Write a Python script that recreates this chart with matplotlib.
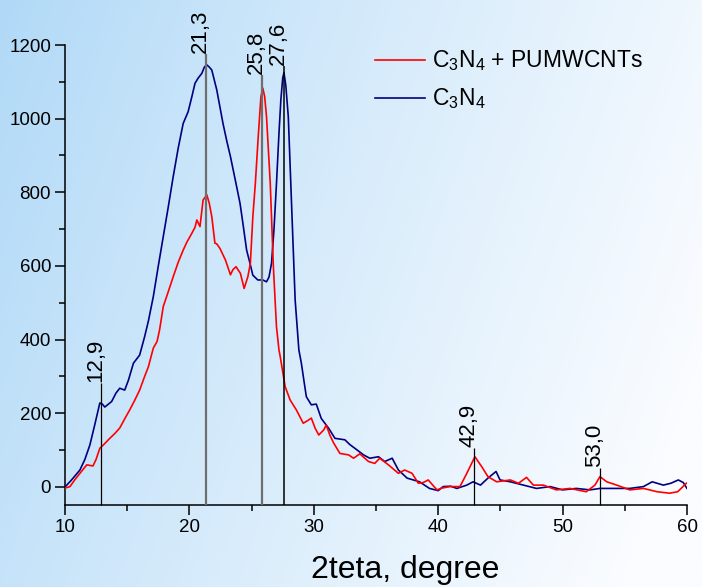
import numpy as np
import matplotlib
matplotlib.use("Agg")
import matplotlib.pyplot as plt
from matplotlib.lines import Line2D
from matplotlib.ticker import MultipleLocator

plt.rcParams['font.family'] = ['Liberation Sans', 'DejaVu Sans']
plt.rcParams['mathtext.fontset'] = 'custom'
plt.rcParams['mathtext.rm'] = 'Liberation Sans'
plt.rcParams['mathtext.it'] = 'Liberation Sans'

# ---- data ----
blue_x = [10.0, 10.5, 11.2, 11.6, 12.0, 12.4, 12.8, 13.0, 13.2, 13.75, 14.1, 14.4, 14.8, 15.1, 15.5,
          16.0, 16.4, 16.7, 17.1, 17.5, 17.9, 18.3, 18.7, 19.1, 19.5, 19.9, 20.2, 20.45, 20.7, 21.0,
          21.2, 21.4, 21.6, 21.8, 22.0, 22.2, 22.7, 23.0, 23.3, 23.8, 24.07, 24.3, 24.6, 24.85, 25.1,
          25.5, 25.9, 26.2, 26.4, 26.6, 26.8, 27.0, 27.2, 27.35, 27.5, 27.6, 27.75, 27.95, 28.2, 28.5,
          28.8, 29.0, 29.2, 29.4, 29.8, 30.2, 30.6, 31.2, 31.7, 32.1, 32.5, 32.9, 33.3, 34.0, 34.5,
          35.2, 35.7, 36.3, 36.8, 37.5, 38.5, 39.3, 40.0, 40.4, 41.0, 41.5, 42.3, 42.8, 43.4, 44.0,
          44.65, 44.97, 45.8, 46.85, 47.9, 49.0, 50.0, 51.1, 52.2, 53.0, 54.1, 55.4, 56.5, 57.2, 58.1,
          58.7, 59.3, 59.7, 60.0]
blue_y = [0, 18, 46, 75, 114, 170, 228, 225, 217, 232, 255, 268, 263, 290, 336,
          358, 408, 450, 517, 600, 680, 760, 843, 920, 987, 1019, 1060, 1096, 1110, 1123,
          1140, 1146, 1140, 1132, 1105, 1078, 987, 940, 897, 815, 770, 716, 643, 610, 575,
          562, 562, 557, 570, 607, 700, 824, 960, 1050, 1110, 1125, 1090, 1005, 779, 508,
          372, 336, 290, 245, 223, 225, 186, 159, 132, 130, 128, 115, 105, 87, 78,
          82, 69, 78, 46, 24, 14, -4, -10, 1, 2, -4, 5, 14, 5, 24,
          42, 19, 14, 5, -4, 1, -8, -4, -8, -4, -4, -4, 1, 14, 5,
          10, 19, 12, -4]

red_x = [10.0, 10.4, 10.8, 11.2, 11.75, 12.25, 12.5, 12.8, 13.2, 13.6, 14.0, 14.4, 14.8, 15.2, 15.6,
         16.0, 16.4, 16.7, 17.1, 17.4, 17.6, 17.9, 18.3, 18.7, 19.1, 19.5, 19.8, 20.2, 20.45, 20.6,
         20.85, 21.1, 21.4, 21.6, 21.8, 22.05, 22.2, 22.45, 22.9, 23.3, 23.5, 23.75, 24.1, 24.4, 24.7,
         24.9, 25.1, 25.3, 25.55, 25.75, 25.9, 26.05, 26.2, 26.5, 26.75, 27.0, 27.2, 27.3, 27.7, 28.1,
         28.6, 29.15, 29.5, 29.8, 30.1, 30.4, 30.8, 31.0, 31.3, 31.6, 32.1, 32.8, 33.2, 33.7, 34.4,
         34.9, 35.3, 36.0, 36.8, 37.3, 37.9, 38.4, 38.8, 39.2, 39.9, 40.3, 40.95, 41.75, 42.3, 42.95,
         43.5, 44.0, 44.7, 45.8, 46.45, 47.1, 47.65, 48.45, 49.5, 50.6, 51.9, 52.6, 53.0, 53.55, 54.35,
         55.4, 56.5, 57.6, 58.6, 59.25, 59.95]
red_y = [-3, 1, 20, 37, 60, 57, 75, 105, 118, 132, 145, 160, 185, 209, 235,
         263, 300, 326, 377, 395, 426, 490, 530, 571, 610, 643, 665, 689, 705, 725,
         707, 779, 793, 770, 734, 662, 660, 648, 616, 576, 590, 598, 580, 539, 571,
         607, 734, 824, 960, 1060, 1083, 1060, 1005, 824, 598, 435, 372, 354, 272, 236,
         209, 173, 180, 187, 160, 141, 155, 168, 140, 119, 91, 87, 78, 90, 69,
         64, 78, 60, 37, 46, 37, 10, 12, 19, -8, -3, 1, 1, 37, 82,
         55, 28, 14, 19, 10, 26, 5, 5, -8, -4, -13, 5, 28, 14, 5,
         -8, -4, -13, -17, -13, 10]

peak_pos = [12.9, 21.3, 25.8, 27.6, 42.9, 53.0]
peak_labels = ['12,9', '21,3', '25,8', '27,6', '42,9', '53,0']
peak_tops = [282, 1175, 1119, 1144, 106, 52]
peak_colors = ['black', '#6e6e6e', '#6e6e6e', 'black', 'black', 'black']
peak_widths = [0.9, 1.6, 1.6, 1.1, 0.9, 0.9]

series_names = [r'C$_3$N$_4$ + PUMWCNTs', r'C$_3$N$_4$']
series_colors = ['#ff0000', '#000080']

W, H = 702, 587
fig = plt.figure(figsize=(W / 100, H / 100), dpi=100)

# gradient background
bg = fig.add_axes([0, 0, 1, 1], zorder=-10)
xx, yy = np.meshgrid(np.linspace(0, 1, 300), np.linspace(0, 1, 250))
t = np.clip(0.85 * xx + 0.25 * yy, 0, 1) ** 0.9
c0 = np.array([176, 217, 247]) / 255.0
c1 = np.array([250, 252, 255]) / 255.0
img = c0[None, None, :] * (1 - t[..., None]) + c1[None, None, :] * t[..., None]
bg.imshow(img, aspect='auto', extent=[0, 1, 1, 0])
bg.axis('off')

ax = fig.add_axes([65 / W, 1 - 505 / H, (687 - 65) / W, (505 - 45) / H])
ax.patch.set_alpha(0)
ymin, ymax = -49, 1200
ax.set_xlim(10, 60)
ax.set_ylim(ymin, ymax)

ax.plot(blue_x, blue_y, color=series_colors[1], lw=1.2, zorder=3)
ax.plot(red_x, red_y, color=series_colors[0], lw=1.2, zorder=4)

for x, lab, top, c, lw in zip(peak_pos, peak_labels, peak_tops, peak_colors, peak_widths):
    ax.vlines(x, ymin, top, color=c, lw=lw, zorder=5, clip_on=False)
    ax.text(x, top + 2, lab, rotation=90, rotation_mode='anchor', ha='left', va='baseline',
            fontsize=16, color='black', clip_on=False, zorder=6)

for s in ['top', 'right']:
    ax.spines[s].set_visible(False)
for s in ['left', 'bottom']:
    ax.spines[s].set_linewidth(1.1)
ax.xaxis.set_major_locator(MultipleLocator(10))
ax.xaxis.set_minor_locator(MultipleLocator(5))
ax.yaxis.set_major_locator(MultipleLocator(200))
ax.yaxis.set_minor_locator(MultipleLocator(100))
ax.set_yticks([0, 200, 400, 600, 800, 1000, 1200])
ax.tick_params(which='major', direction='out', length=7, width=1.1, labelsize=13.5, pad=3)
ax.tick_params(which='minor', direction='out', length=4, width=1.1)

fig.text(405 / W, 1 - 578 / H, '2teta, degree', fontsize=23, ha='center', va='baseline')

# legend drawn manually
for i, (name, col) in enumerate(zip(series_names, series_colors)):
    yl = 60 + 38 * i
    fig.add_artist(Line2D([375 / W, 425 / W], [1 - yl / H, 1 - yl / H], color=col, lw=1.2))
    fig.text(432 / W, 1 - (67 + 38 * i) / H, name, fontsize=16.5, ha='left', va='baseline')

fig.savefig('out.png', dpi=100)
